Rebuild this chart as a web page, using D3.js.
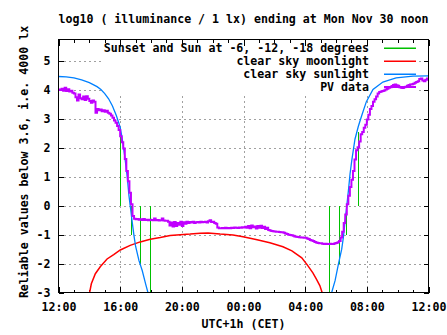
<!DOCTYPE html>
<html><head><meta charset="utf-8">
<script src="https://cdn.jsdelivr.net/npm/d3@7"></script>
<style>
body{margin:0;background:#fff}
svg{display:block}
text{font-family:"DejaVu Sans Mono","Liberation Mono",monospace;font-weight:bold;font-size:11.6px;fill:#000}
</style>
</head><body>
<svg id="c" width="447" height="335"></svg>
<script>
// ---- data (hours after 12:00 on Nov 29) ----
const xTickHours = [0, 4, 8, 12, 16, 20, 24];
const xTickLabels = ["12:00", "16:00", "20:00", "00:00", "04:00", "08:00", "12:00"];
const yTicks = [-3, -2, -1, 0, 1, 2, 3, 4, 5];

const legendLabels = ["Sunset and Sun at -6, -12, -18 degrees", "clear sky moonlight", "clear sky sunlight", "PV data"];
const seriesColors = ["#00c000", "#ff0000", "#0080ff", "#c000ff"];

// sunset / twilight / sunrise markers
const eventHours = [4.0, 4.72, 5.26, 5.91, 17.55, 18.2, 18.62, 19.41];
const eventEnds  = [2.55, -1, -2, -3, -3, -2, -1, 2.55];

// clear sky moonlight
const moonHours = [2.02, 2.13, 2.39, 2.72, 3.15, 3.58, 4.01, 4.65, 5.30, 5.95, 6.60, 7.24, 7.89, 8.54, 9.19, 9.70, 10.48, 11.32, 11.97, 12.81, 13.71, 14.56, 15.14, 15.78, 16.17, 16.50, 16.72, 16.95, 17.10];
const moonValues = [-3, -2.7, -2.35, -2.1, -1.84, -1.69, -1.53, -1.37, -1.25, -1.16, -1.1, -1.03, -1.0, -0.98, -0.95, -0.94, -0.98, -1.01, -1.07, -1.17, -1.28, -1.42, -1.56, -1.8, -2.07, -2.32, -2.53, -2.76, -3];

// clear sky sunlight (evening branch, morning branch)
const sunEveHours = [0, 0.5, 1, 1.5, 2, 2.5, 2.75, 3, 3.25, 3.5, 3.75, 4.0, 4.14, 4.3, 4.46, 4.57, 4.68, 4.79, 4.9, 5.0, 5.22, 5.43, 5.65, 5.8];
const sunEveValues = [4.47, 4.46, 4.42, 4.35, 4.26, 4.12, 4.02, 3.88, 3.7, 3.45, 3.12, 2.72, 2.3, 1.7, 1.0, 0.35, -0.12, -0.6, -1.05, -1.4, -1.9, -2.24, -2.7, -3];
const sunMornHours = [17.72, 17.94, 18.16, 18.37, 18.48, 18.59, 18.70, 18.81, 18.91, 19.02, 19.13, 19.23, 19.45, 19.67, 19.97, 20.4, 21.04, 21.9, 23.0, 24];
const sunMornValues = [-3, -2.59, -2.01, -1.5, -1.09, -0.52, 0.0, 0.55, 1.1, 1.55, 1.95, 2.3, 2.75, 3.12, 3.6, 4.02, 4.28, 4.42, 4.48, 4.49];

// PV data, one value every 0.1 h from 12:00
const pvStepHours = 0.1;
const pvValues = [
 4.02, 4.00, 4.05, 3.98, 4.08, 3.97, 4.03, 3.95, 3.98, 3.91, 3.88,
 3.75, 3.64, 3.85, 3.72, 3.68, 3.78, 3.66, 3.79, 3.70, 3.62,
 3.56, 3.64, 3.60, 3.22, 3.35, 3.30, 3.33, 3.27, 3.30, 3.25,
 3.29, 3.22, 3.18, 3.12, 3.04, 2.95, 2.87, 2.76, 2.62, 2.40,
 2.20, 1.98, 1.62, 1.20, 0.85, 0.45, 0.05, -0.35, -0.45, -0.47,
 -0.46, -0.48, -0.47, -0.49, -0.46, -0.49, -0.48, -0.50, -0.48, -0.49,
 -0.50, -0.44, -0.50, -0.49, -0.51, -0.50, -0.44, -0.51, -0.52, -0.52,
 -0.55, -0.68, -0.58, -0.72, -0.56, -0.70, -0.60, -0.66, -0.55, -0.70,
 -0.57, -0.62, -0.55, -0.60, -0.56, -0.58, -0.55, -0.60, -0.57, -0.56,
 -0.58, -0.55, -0.57, -0.56, -0.55, -0.58, -0.54, -0.50, -0.56, -0.55,
 -0.60, -0.62, -0.75, -0.78, -0.78, -0.77, -0.78, -0.76, -0.78, -0.77,
 -0.78, -0.76, -0.77, -0.75, -0.76, -0.77, -0.75, -0.76, -0.74, -0.75,
 -0.73, -0.76, -0.70, -0.78, -0.68, -0.74, -0.72, -0.79, -0.70, -0.76,
 -0.69, -0.77, -0.73, -0.80, -0.76, -0.84, -0.86, -0.87, -0.88, -0.89,
 -0.90, -0.90, -0.91, -0.92, -0.92, -0.93, -0.96, -0.98, -1.00, -1.01,
 -1.02, -1.04, -1.06, -1.07, -1.08, -1.09, -1.10, -1.10, -1.11, -1.11,
 -1.13, -1.15, -1.18, -1.20, -1.22, -1.25, -1.27, -1.29, -1.30, -1.30,
 -1.31, -1.32, -1.31, -1.32, -1.32, -1.31, -1.32, -1.32, -1.30, -1.29,
 -1.26, -1.22, -1.10, -0.90, -0.60, -0.30, 0.05, 0.35, 0.65, 0.90,
 1.20, 1.60, 1.92, 2.02, 2.22, 2.47, 2.55, 2.70, 2.80, 2.98,
 3.15, 3.35, 3.45, 3.60, 3.68, 3.78, 3.88, 3.93, 3.95, 3.97,
 3.99, 4.02, 4.05, 4.08, 4.10, 4.14, 4.18, 4.19, 4.17, 4.15,
 4.10, 4.08, 4.07, 4.10, 4.12, 4.15, 4.18, 4.19, 4.20, 4.22,
 4.25, 4.28, 4.31, 4.38, 4.40, 4.33, 4.31, 4.36, 4.40, 4.44
];

const titleText = "log10 ( illuminance / 1 lx) ending at Mon Nov 30 noon";
const yLabelText = "Reliable values below 3.6, i.e. 4000 lx";
const xLabelText = "UTC+1h (CET)";

// ---- drawing ----
const svg = d3.select("#c");
const L = 58.5, R = 428.5, T = 39.5, B = 292.5;
const x = d3.scaleLinear().domain([0, 24]).range([L, R]);
const y = d3.scaleLinear().domain([-3, 5.75]).range([B, T]);

// grid
const grid = svg.append("g").attr("stroke", "#a0a0a0").attr("stroke-dasharray", "2,3").attr("shape-rendering", "crispEdges");
yTicks.filter(v => v > -3).forEach(v => grid.append("line").attr("x1", L).attr("x2", R).attr("y1", Math.round(y(v)) + 0.5).attr("y2", Math.round(y(v)) + 0.5));
xTickHours.filter(h => h > 0 && h < 24).forEach(h => grid.append("line").attr("y1", B).attr("y2", T).attr("x1", Math.round(x(h)) + 0.5).attr("x2", Math.round(x(h)) + 0.5));

// key background (hides grid)
svg.append("rect").attr("x", 104).attr("y", 40).attr("width", 315).attr("height", 53).attr("fill", "#fff");

// axes (inward ticks)
const minorHours = d3.range(0, 25).filter(h => !xTickHours.includes(h));
function styleAxis(g) { g.select(".domain").remove(); g.selectAll("line").attr("shape-rendering", "crispEdges").attr("stroke", "#000"); }
svg.append("g").attr("transform", `translate(0,${B})`)
  .call(d3.axisBottom(x).tickValues(xTickHours).tickSize(-6).tickPadding(10).tickFormat((d, i) => xTickLabels[i]))
  .call(styleAxis).call(g => g.selectAll("text").attr("font-size", null).attr("font-family", null));
svg.append("g").attr("transform", `translate(0,${B})`)
  .call(d3.axisBottom(x).tickValues(minorHours).tickSize(-3).tickFormat(""))
  .call(styleAxis);
svg.append("g").attr("transform", `translate(0,${T})`)
  .call(d3.axisTop(x).tickValues(xTickHours).tickSize(-6).tickFormat(""))
  .call(styleAxis);
svg.append("g").attr("transform", `translate(0,${T})`)
  .call(d3.axisTop(x).tickValues(minorHours).tickSize(-3).tickFormat(""))
  .call(styleAxis);
svg.append("g").attr("transform", `translate(${L},0)`)
  .call(d3.axisLeft(y).tickValues(yTicks).tickSize(-5).tickPadding(8).tickFormat(d => String(d)))
  .call(styleAxis).call(g => g.selectAll("text").attr("font-size", null).attr("font-family", null));
svg.append("g").attr("transform", `translate(${R},0)`)
  .call(d3.axisRight(y).tickValues(yTicks).tickSize(-5).tickFormat(""))
  .call(styleAxis);

// clip
svg.append("clipPath").attr("id", "pc").append("rect").attr("x", L).attr("y", T).attr("width", R - L).attr("height", B - T);
const plot = svg.append("g").attr("clip-path", "url(#pc)");

// event markers
plot.selectAll("line.ev").data(eventHours).join("line").attr("class", "ev")
  .attr("x1", d => Math.round(x(d)) + 0.5).attr("x2", d => Math.round(x(d)) + 0.5)
  .attr("y1", y(0)).attr("y2", (d, i) => y(eventEnds[i]))
  .attr("stroke", seriesColors[0]).attr("stroke-width", 1.5).attr("shape-rendering", "crispEdges");

const line = d3.line().x(d => x(d[0])).y(d => y(d[1]));
plot.append("path").attr("d", line(moonHours.map((h, i) => [h, moonValues[i]])))
  .attr("fill", "none").attr("stroke", seriesColors[1]).attr("stroke-width", 1.5);
plot.append("path").attr("d", line(sunEveHours.map((h, i) => [h, sunEveValues[i]])))
  .attr("fill", "none").attr("stroke", seriesColors[2]).attr("stroke-width", 1.3);
plot.append("path").attr("d", line(sunMornHours.map((h, i) => [h, sunMornValues[i]])))
  .attr("fill", "none").attr("stroke", seriesColors[2]).attr("stroke-width", 1.3);
plot.append("path").attr("d", d3.line().curve(d3.curveStepAfter).x(d => x(d[0])).y(d => y(d[1]))(pvValues.map((v, i) => [i * pvStepHours, v])))
  .attr("fill", "none").attr("stroke", seriesColors[3]).attr("stroke-width", 2);

// frame
svg.append("rect").attr("x", L).attr("y", T).attr("width", R - L).attr("height", B - T)
  .attr("fill", "none").attr("stroke", "#000").attr("shape-rendering", "crispEdges");

// key
const key = svg.append("g");
legendLabels.forEach((t, i) => {
  const cy = 48 + i * 13;
  key.append("text").attr("x", 369).attr("y", cy + 4).attr("text-anchor", "end").text(t);
  key.append("rect").attr("x", 384).attr("width", 32).attr("y", cy - (i === 3 ? 1 : 0.5)).attr("height", i === 3 ? 2 : 1.5)
    .attr("fill", seriesColors[i]);
});

// titles
svg.append("text").attr("x", (L + R) / 2).attr("y", 23).attr("text-anchor", "middle").text(titleText);
svg.append("text").attr("x", (L + R) / 2).attr("y", 328).attr("text-anchor", "middle").text(xLabelText);
svg.append("text").attr("transform", "translate(28,162) rotate(-90)").attr("text-anchor", "middle").text(yLabelText);
</script>
</body></html>
